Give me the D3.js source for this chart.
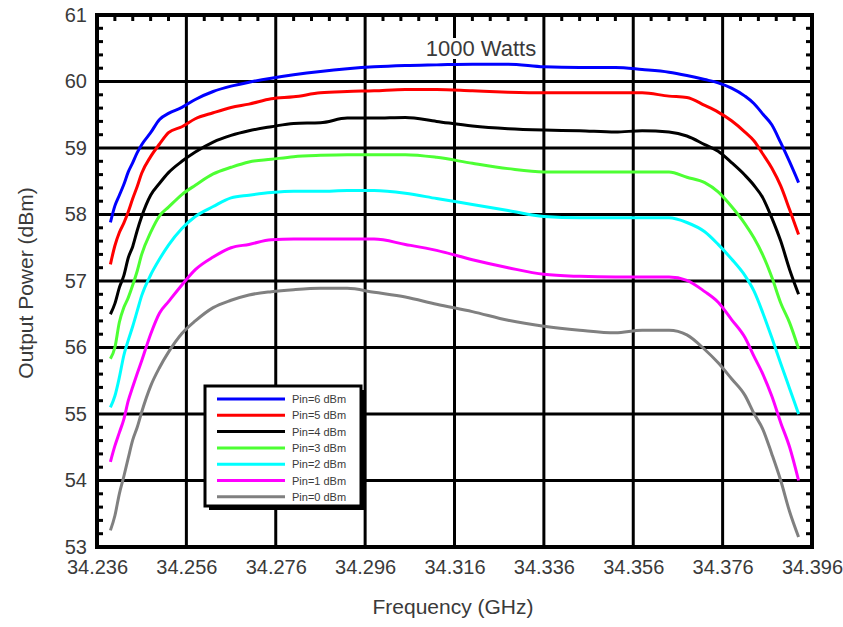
<!DOCTYPE html>
<html>
<head>
<meta charset="utf-8">
<script src="https://cdn.jsdelivr.net/npm/d3@7"></script>
<style>
  html, body { margin: 0; padding: 0; background: #fff; }
  svg { display: block; font-family: "Liberation Sans", Arial, sans-serif; }
</style>
</head>
<body>
<svg id="chart" width="843" height="627"></svg>
<script>
// Measurement frequencies (GHz), shared by every sweep
const freq = [34.239, 34.240, 34.241, 34.242, 34.243, 34.244, 34.245, 34.246, 34.248, 34.250,
  34.252, 34.255, 34.258, 34.262, 34.266, 34.270, 34.275, 34.280, 34.286, 34.292,
  34.298, 34.305, 34.312, 34.320, 34.328, 34.336, 34.344, 34.352, 34.358, 34.364,
  34.368, 34.372, 34.375, 34.378, 34.381, 34.383, 34.385, 34.387, 34.389, 34.391, 34.393];

// Output power (dBm) for each drive level
const pin6 = [57.88, 58.13, 58.29, 58.45, 58.64, 58.78, 58.93, 59.05, 59.23, 59.43,
  59.52, 59.61, 59.73, 59.85, 59.93, 59.99, 60.05, 60.10, 60.15, 60.19,
  60.22, 60.24, 60.25, 60.26, 60.26, 60.22, 60.21, 60.21, 60.18, 60.14,
  60.09, 60.03, 59.98, 59.90, 59.78, 59.67, 59.51, 59.35, 59.08, 58.79, 58.48];
const pin5 = [57.25, 57.53, 57.73, 57.87, 58.04, 58.24, 58.42, 58.62, 58.87, 59.06,
  59.23, 59.32, 59.44, 59.53, 59.61, 59.66, 59.74, 59.77, 59.83, 59.85,
  59.86, 59.88, 59.88, 59.86, 59.84, 59.83, 59.83, 59.83, 59.83, 59.78,
  59.76, 59.64, 59.54, 59.41, 59.24, 59.11, 58.91, 58.70, 58.43, 58.07, 57.70];
const pin4 = [56.50, 56.66, 56.90, 57.08, 57.35, 57.52, 57.76, 57.97, 58.29, 58.47,
  58.63, 58.80, 58.94, 59.09, 59.19, 59.26, 59.32, 59.37, 59.38, 59.45,
  59.45, 59.46, 59.40, 59.33, 59.29, 59.27, 59.26, 59.24, 59.26, 59.24,
  59.18, 59.05, 58.95, 58.78, 58.59, 58.44, 58.25, 57.95, 57.60, 57.17, 56.80];
const pin3 = [55.83, 56.00, 56.38, 56.60, 56.75, 56.94, 57.15, 57.40, 57.73, 57.98,
  58.11, 58.30, 58.44, 58.61, 58.71, 58.79, 58.83, 58.87, 58.89, 58.90,
  58.90, 58.90, 58.86, 58.77, 58.69, 58.64, 58.64, 58.64, 58.64, 58.64,
  58.56, 58.48, 58.34, 58.12, 57.86, 57.65, 57.39, 57.06, 56.67, 56.37, 55.98];
const pin2 = [55.10, 55.27, 55.55, 55.88, 56.11, 56.32, 56.55, 56.78, 57.09, 57.33,
  57.54, 57.79, 57.97, 58.12, 58.25, 58.29, 58.33, 58.35, 58.35, 58.36,
  58.36, 58.32, 58.24, 58.15, 58.06, 57.97, 57.95, 57.95, 57.95, 57.95,
  57.88, 57.74, 57.55, 57.33, 57.08, 56.85, 56.52, 56.15, 55.76, 55.38, 55.00];
const pin1 = [54.28, 54.52, 54.72, 54.92, 55.20, 55.41, 55.61, 55.80, 56.20, 56.52,
  56.69, 56.94, 57.17, 57.36, 57.50, 57.55, 57.62, 57.63, 57.63, 57.63,
  57.63, 57.55, 57.46, 57.32, 57.20, 57.10, 57.07, 57.06, 57.06, 57.06,
  57.01, 56.84, 56.68, 56.42, 56.15, 55.87, 55.60, 55.27, 54.87, 54.50, 54.00];
const pin0 = [53.25, 53.47, 53.80, 54.06, 54.34, 54.61, 54.80, 55.03, 55.42, 55.70,
  55.93, 56.21, 56.40, 56.60, 56.71, 56.79, 56.84, 56.87, 56.89, 56.89,
  56.83, 56.76, 56.65, 56.54, 56.41, 56.32, 56.26, 56.22, 56.26, 56.26,
  56.19, 55.97, 55.77, 55.53, 55.28, 55.01, 54.77, 54.40, 54.00, 53.53, 53.15];

const seriesValues = [pin6, pin5, pin4, pin3, pin2, pin1, pin0];
const seriesNames = ["Pin=6 dBm", "Pin=5 dBm", "Pin=4 dBm", "Pin=3 dBm", "Pin=2 dBm", "Pin=1 dBm", "Pin=0 dBm"];
const seriesColors = ["#0000ff", "#ff0000", "#000000", "#4dff33", "#00ffff", "#ff00ff", "#808080"];

// Axis ticks
const xTicks = [34.236, 34.256, 34.276, 34.296, 34.316, 34.336, 34.356, 34.376, 34.396];
const yTicks = [53, 54, 55, 56, 57, 58, 59, 60, 61];
const title = "1000 Watts";

const svg = d3.select("#chart");
const plot = { left: 97, right: 812, top: 15, bottom: 547 };

const x = d3.scaleLinear().domain([xTicks[0], xTicks[xTicks.length - 1]]).range([plot.left, plot.right]);
const y = d3.scaleLinear().domain([yTicks[0], yTicks[yTicks.length - 1]]).range([plot.bottom, plot.top]);

const textColor = "#3a3a3a";

// Major grid
const grid = svg.append("g");
grid.selectAll("line.gx").data(xTicks.slice(1, -1)).join("line")
  .attr("x1", d => x(d)).attr("x2", d => x(d))
  .attr("y1", plot.top).attr("y2", plot.bottom)
  .attr("stroke", "#000").attr("stroke-width", 3);
grid.selectAll("line.gy").data(yTicks.slice(1, -1)).join("line")
  .attr("x1", plot.left).attr("x2", plot.right)
  .attr("y1", d => y(d)).attr("y2", d => y(d))
  .attr("stroke", "#000").attr("stroke-width", 3);

// Minor ticks pointing into the plot (top, left, right)
const xMinor = d3.range(0, 41).map(i => xTicks[0] + i * 0.004).filter((d, i) => i % 5 !== 0);
const yMinor = d3.range(0, 41).map(i => yTicks[0] + i * 0.2).filter((d, i) => i % 5 !== 0);
const ticks = svg.append("g").attr("stroke", "#000").attr("stroke-width", 3);
ticks.selectAll("line.tt").data(xMinor).join("line")
  .attr("x1", d => x(d)).attr("x2", d => x(d))
  .attr("y1", plot.top).attr("y2", plot.top + 6);
ticks.selectAll("line.tl").data(yMinor).join("line")
  .attr("x1", plot.left).attr("x2", plot.left + 6)
  .attr("y1", d => y(d)).attr("y2", d => y(d));
ticks.selectAll("line.tr").data(yMinor).join("line")
  .attr("x1", plot.right).attr("x2", plot.right - 6)
  .attr("y1", d => y(d)).attr("y2", d => y(d));

// Title with a white backing over the grid
const tg = svg.append("g");
const tt = tg.append("text")
  .attr("x", 481).attr("y", 56)
  .attr("text-anchor", "middle")
  .attr("font-size", 22).attr("fill", textColor)
  .text(title);
const tb = tt.node().getBBox();
tg.insert("rect", "text")
  .attr("x", tb.x - 3).attr("y", tb.y + 2).attr("width", tb.width + 6).attr("height", tb.height - 4)
  .attr("fill", "#fff");

// Curves
const line = d3.line()
  .x((d, i) => x(freq[i]))
  .y(d => y(d))
  .curve(d3.curveMonotoneX);
svg.append("g").selectAll("path").data(seriesValues).join("path")
  .attr("d", d => line(d))
  .attr("fill", "none")
  .attr("stroke", (d, i) => seriesColors[i])
  .attr("stroke-width", 3)
  .attr("stroke-linejoin", "round");

// Frame
svg.append("rect")
  .attr("x", plot.left).attr("y", plot.top)
  .attr("width", plot.right - plot.left).attr("height", plot.bottom - plot.top)
  .attr("fill", "none").attr("stroke", "#000").attr("stroke-width", 4);

// Axis labels
const xAxis = svg.append("g")
  .attr("transform", `translate(0,${plot.bottom})`)
  .call(d3.axisBottom(x).tickValues(xTicks).tickFormat(d3.format(".3f")).tickSize(0).tickPadding(13));
const yAxis = svg.append("g")
  .attr("transform", `translate(${plot.left},0)`)
  .call(d3.axisLeft(y).tickValues(yTicks).tickFormat(d3.format("d")).tickSize(0).tickPadding(10));
[xAxis, yAxis].forEach(a => {
  a.select(".domain").remove();
  a.selectAll("text").attr("font-size", 20).attr("fill", textColor)
    .attr("font-family", "'Liberation Sans', Arial, sans-serif");
});
yAxis.selectAll("text").attr("dy", "0.3em");

svg.append("text")
  .attr("x", 453).attr("y", 614)
  .attr("text-anchor", "middle").attr("font-size", 21).attr("fill", textColor)
  .text("Frequency (GHz)");
svg.append("text")
  .attr("transform", "translate(33,283) rotate(-90)")
  .attr("text-anchor", "middle").attr("font-size", 21).attr("fill", textColor)
  .text("Output Power (dBm)");

// Legend
const lg = svg.append("g");
const box = { x: 205, y: 386, w: 156, h: 120 };
lg.append("rect")
  .attr("x", box.x + 4).attr("y", box.y + 4).attr("width", box.w).attr("height", box.h)
  .attr("fill", "#000");
lg.append("rect")
  .attr("x", box.x).attr("y", box.y).attr("width", box.w).attr("height", box.h)
  .attr("fill", "#fff").attr("stroke", "#000").attr("stroke-width", 3);
const rows = lg.selectAll("g.row").data(seriesNames).join("g")
  .attr("transform", (d, i) => `translate(0,${399 + i * 16.3})`);
rows.append("line")
  .attr("x1", 217).attr("x2", 285).attr("y1", 0).attr("y2", 0)
  .attr("stroke", (d, i) => seriesColors[i]).attr("stroke-width", 3);
rows.append("text")
  .attr("x", 292).attr("y", 4)
  .attr("font-size", 11).attr("fill", textColor)
  .text(d => d);
</script>
</body>
</html>
